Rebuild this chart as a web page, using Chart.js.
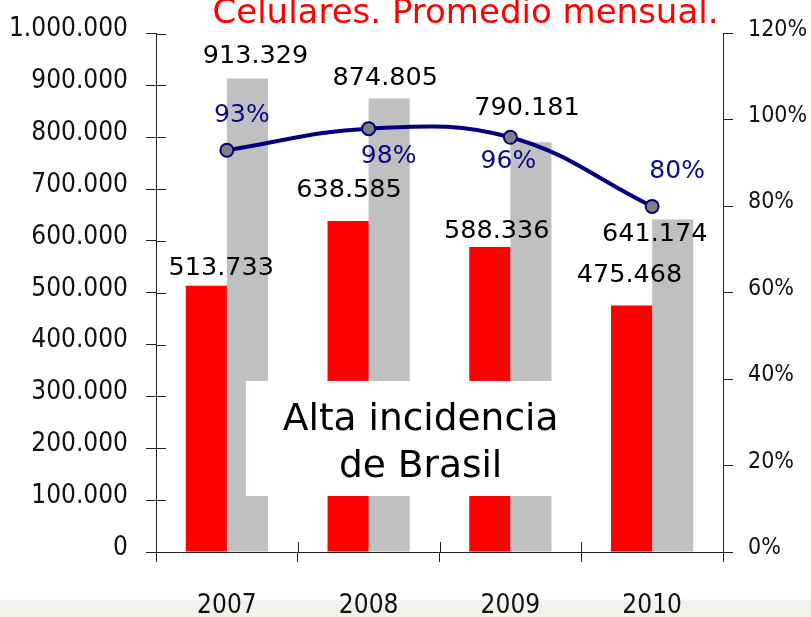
<!DOCTYPE html>
<html><head><meta charset="utf-8">
<script src="https://cdn.jsdelivr.net/npm/chart.js@4"></script>
<style>
html,body{margin:0;padding:0;background:#fff;}
#wrap{position:relative;width:811px;height:617px;background:linear-gradient(to bottom,#ffffff 0px,#ffffff 599px,#f4f2ef 601px,#f4f2ef 617px);}
canvas{display:block;}
</style></head><body>
<div id="wrap"><canvas id="c" width="811" height="617"></canvas></div>
<script>
// ---- data ----
const categories = ['2007', '2008', '2009', '2010'];
const redValues = [513733, 638585, 588336, 475468];
const grayValues = [913329, 874805, 790181, 641174];
const pctValues = [93, 98, 96, 80];
const leftTickLabels = ['0', '100.000', '200.000', '300.000', '400.000', '500.000', '600.000', '700.000', '800.000', '900.000', '1.000.000'];
const rightTickLabels = ['0%', '20%', '40%', '60%', '80%', '100%', '120%'];
const chartTitle = 'Celulares. Promedio mensual.';
const noteLines = ['Alta incidencia', 'de Brasil'];

// ---- label placement (pixel offsets from each mark) ----
const redLabelOffsets = [[15, -17], [1, -31], [7, -16], [-2, -30]];
const grayLabelOffsets = [[8, -22], [-4, -20], [-4, -34], [-18, 15]];
const pctLabelOffsets = [[15, -35], [20, 28], [-2, 24], [25, -35]];

const COND = "'DejaVu Sans Condensed', 'Liberation Sans Narrow', 'DejaVu Sans', sans-serif";
const SANS = "'DejaVu Sans', sans-serif";
const AXIS = '#222222';

function fmtThousands(v) {
  return String(v).replace(/\B(?=(\d{3})+(?!\d))/g, '.');
}

const overlay = {
  id: 'overlay',
  afterDatasetsDraw(chart) {
    const ctx = chart.ctx;
    const ca = chart.chartArea;
    const yl = chart.scales.y;
    const xs = chart.scales.x;
    ctx.save();
    // inner halves of ticks
    ctx.strokeStyle = AXIS;
    ctx.lineWidth = 1;
    ctx.beginPath();
    yl.ticks.forEach((t, i) => {
      const py = Math.round(yl.getPixelForTick(i)) + 0.5;
      ctx.moveTo(Math.round(ca.left), py);
      ctx.lineTo(Math.round(ca.left) + 10, py);
    });
    const n = categories.length;
    for (let i = 0; i <= n; i++) {
      const px = Math.round(xs.left + i * (xs.width / n)) + 0.5;
      ctx.moveTo(px, Math.round(ca.bottom));
      ctx.lineTo(px, Math.round(ca.bottom) - 10);
    }
    ctx.stroke();

    // note box
    const bx0 = xs.getPixelForValue(0) + 19;
    const bx1 = xs.getPixelForValue(2) + 85;
    const by0 = yl.getPixelForValue(330000);
    const by1 = yl.getPixelForValue(108000);
    ctx.fillStyle = '#ffffff';
    ctx.fillRect(bx0, by0, bx1 - bx0, by1 - by0);
    ctx.fillStyle = '#000000';
    ctx.font = "37.5px " + SANS;
    ctx.textAlign = 'center';
    ctx.textBaseline = 'alphabetic';
    const cx = (bx0 + bx1) / 2;
    ctx.fillText(noteLines[0], cx, by0 + 49);
    ctx.fillText(noteLines[1], cx, by0 + 96);

    // value labels
    ctx.textBaseline = 'middle';
    const drawSet = (idx, vals, offs, color, fmt, size) => {
      const meta = chart.getDatasetMeta(idx);
      ctx.font = size + "px " + SANS;
      ctx.fillStyle = color;
      meta.data.forEach((el, j) => {
        ctx.fillText(fmt(vals[j]), el.x + offs[j][0], el.y + offs[j][1]);
      });
    };
    drawSet(0, redValues, redLabelOffsets, '#000000', fmtThousands, 25.5);
    drawSet(1, grayValues, grayLabelOffsets, '#000000', fmtThousands, 25.5);
    drawSet(2, pctValues, pctLabelOffsets, '#0a0a8a', v => v + '%', 25);

    // title (partly cut at the top, as in the reference)
    ctx.font = "34px " + SANS;
    ctx.fillStyle = '#ff0000';
    ctx.textBaseline = 'alphabetic';
    ctx.textAlign = 'center';
    ctx.fillText(chartTitle, (xs.left + xs.right) / 2 + 26, 23);
    ctx.restore();
  }
};

new Chart(document.getElementById('c'), {
  type: 'bar',
  data: {
    labels: categories,
    datasets: [
      { label: 'Rojo', data: redValues, backgroundColor: '#ff0000', borderWidth: 0,
        barPercentage: 1, categoryPercentage: 0.58, yAxisID: 'y', order: 2 },
      { label: 'Gris', data: grayValues, backgroundColor: '#c0c0c0', borderWidth: 0,
        barPercentage: 1, categoryPercentage: 0.58, yAxisID: 'y', order: 2 },
      { type: 'line', label: '%', data: pctValues, yAxisID: 'y1', order: 0,
        borderColor: '#000080', borderWidth: 4, tension: 0.4, fill: false,
        pointRadius: 6.5, pointBackgroundColor: '#808080', pointBorderColor: '#000080',
        pointBorderWidth: 2 }
    ]
  },
  options: {
    responsive: false,
    animation: false,
    devicePixelRatio: 1,
    layout: { padding: { top: 29, left: 0, right: 0, bottom: 0 } },
    plugins: { legend: { display: false }, tooltip: { enabled: false }, title: { display: false } },
    scales: {
      x: {
        position: 'bottom', offset: true,
        grid: { offset: true, drawOnChartArea: false, drawTicks: true, tickLength: 10, color: AXIS, lineWidth: 1 },
        border: { display: true, color: AXIS, width: 1 },
        ticks: { color: '#111', font: { family: COND, size: 26 }, padding: 29, maxRotation: 0, autoSkip: false },
        afterFit(s) { s.height = 65; }
      },
      y: {
        position: 'left', min: 0, max: 1000000,
        grid: { drawOnChartArea: false, drawTicks: true, tickLength: 10, color: AXIS, lineWidth: 1 },
        border: { display: true, color: AXIS, width: 1 },
        ticks: { stepSize: 100000, callback: (v, i) => leftTickLabels[i], color: '#111',
                 font: { family: COND, size: 26 }, padding: 18, labelOffset: -4 },
        afterFit(s) { s.width = 156; }
      },
      y1: {
        position: 'right', min: 0, max: 120,
        grid: { drawOnChartArea: false, drawTicks: true, tickLength: 10, color: AXIS, lineWidth: 1 },
        border: { display: true, color: AXIS, width: 1 },
        ticks: { stepSize: 20, callback: (v, i) => rightTickLabels[i], color: '#111',
                 font: { family: COND, size: 23 }, padding: 15, labelOffset: -4 },
        afterFit(s) { s.width = 88; }
      }
    }
  },
  plugins: [overlay]
});
</script>
</body></html>
